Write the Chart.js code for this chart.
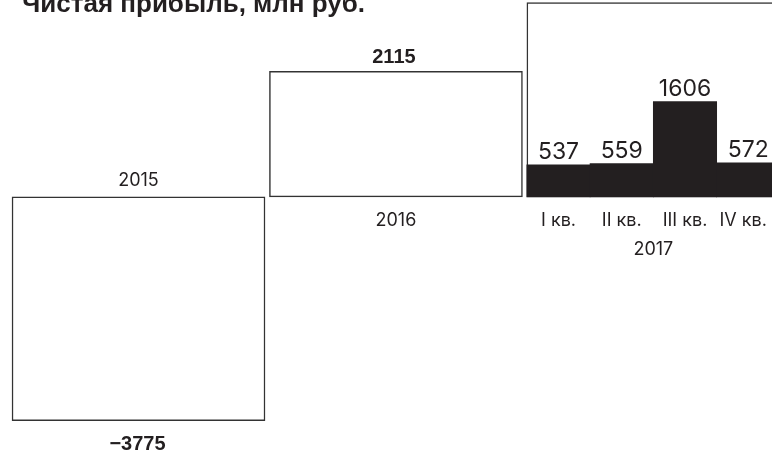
<!DOCTYPE html>
<html>
<head>
    <meta charset="utf-8">
    <title>Чистая прибыль, млн руб.</title>
    <script src="https://cdn.jsdelivr.net/npm/chart.js"></script>
    <style>
        html, body { margin: 0; padding: 0; background: #fff; }
        #chartContainer { width: 772px; height: 455px; }
    </style>
</head>
<body>

    <div id="chartContainer">
        <canvas id="myChart" width="772" height="455"></canvas>
    </div>

    <script>
      // данные
      const title = 'Чистая прибыль, млн руб.';
      const years = ['2015', '2016', '2017'];
      const yearValues = [-3775, 2115, 3274];      // 2017 — рамка по сумме кварталов
      const quarterYear = '2017';
      const quarters = ['I кв.', 'II кв.', 'III кв.', 'IV кв.'];
      const quarterValues = [537, 559, 1606, 572];

      // раскладка (в «кварталах» по оси x)
      const QUARTER_PX = 63.25;
      const YEAR_STEP = 4.07;
      const X_MIN = -0.19;

      const yearX = i => 2 + i * YEAR_STEP;
      const quarterX = q => yearX(years.indexOf(quarterYear)) - 1.5 + q;

      const textColor = '#231f20';
      const fmt = v => (v < 0 ? '\u2212' : '') + Math.abs(v);

      const labelsPlugin = {
        id: 'labels',
        afterDatasetsDraw(chart) {
          const ctx = chart.ctx;
          const xs = chart.scales.x, ys = chart.scales.y;
          const zero = ys.getPixelForValue(0);
          ctx.save();
          ctx.fillStyle = textColor;
          ctx.textBaseline = 'alphabetic';

          // заголовок (обрезан сверху, как в оригинале)
          ctx.textAlign = 'left';
          ctx.font = 'bold 26px "Liberation Sans"';
          ctx.fillText(title, 22, 12);

          ctx.textAlign = 'center';
          years.forEach((yr, i) => {
            const cx = xs.getPixelForValue(yearX(i));
            const vy = ys.getPixelForValue(yearValues[i]);
            ctx.font = '18px Inter';
            if (yr === quarterYear) {
              ctx.fillText(yr, cx, zero + 58);
              return;
            }
            if (yearValues[i] < 0) {
              ctx.fillText(yr, cx, zero - 11);
              ctx.font = 'bold 20px "Liberation Sans"';
              ctx.fillText(fmt(yearValues[i]), cx - 1, vy + 29);
            } else {
              ctx.fillText(yr, cx, zero + 29);
              ctx.font = 'bold 20px "Liberation Sans"';
              ctx.fillText(fmt(yearValues[i]), cx - 2, vy - 8);
            }
          });

          quarters.forEach((q, i) => {
            const cx = xs.getPixelForValue(quarterX(i));
            ctx.font = '23px Inter';
            ctx.fillText(fmt(quarterValues[i]), cx, ys.getPixelForValue(quarterValues[i]) - 6);
            ctx.font = '18px Inter';
            ctx.fillText(q, i === quarters.length - 1 ? cx - 5 : cx, zero + 29);
          });
          ctx.restore();
        }
      };

      const config = {
        type: 'bar',
        data: {
          datasets: [{
            label: 'Кварталы ' + quarterYear,
            data: quarterValues.map((v, i) => ({ x: quarterX(i), y: v })),
            backgroundColor: '#231f20',
            borderWidth: 0,
            inflateAmount: 0.4,
            barThickness: QUARTER_PX,
            order: 0
          }, {
            label: 'Годы',
            data: yearValues.map((v, i) => ({ x: yearX(i), y: v })),
            backgroundColor: '#ffffff',
            borderColor: '#333333',
            borderWidth: 1.5,
            borderSkipped: false,
            barThickness: QUARTER_PX * 4,
            order: 1
          }]
        },
        options: {
          responsive: false,
          animation: false,
          devicePixelRatio: 1,
          layout: { padding: 0 },
          plugins: {
            legend: { display: false },
            tooltip: { enabled: false }
          },
          scales: {
            x: {
              type: 'linear',
              display: false,
              stacked: true,
              offset: false,
              grid: { offset: false },
              min: X_MIN,
              max: X_MIN + 772 / QUARTER_PX
            },
            y: {
              display: false,
              stacked: false,
              min: -4354,
              max: 3319
            }
          }
        },
        plugins: [labelsPlugin]
      };

      new Chart(document.getElementById('myChart'), config);
  </script>

</body>
</html>
